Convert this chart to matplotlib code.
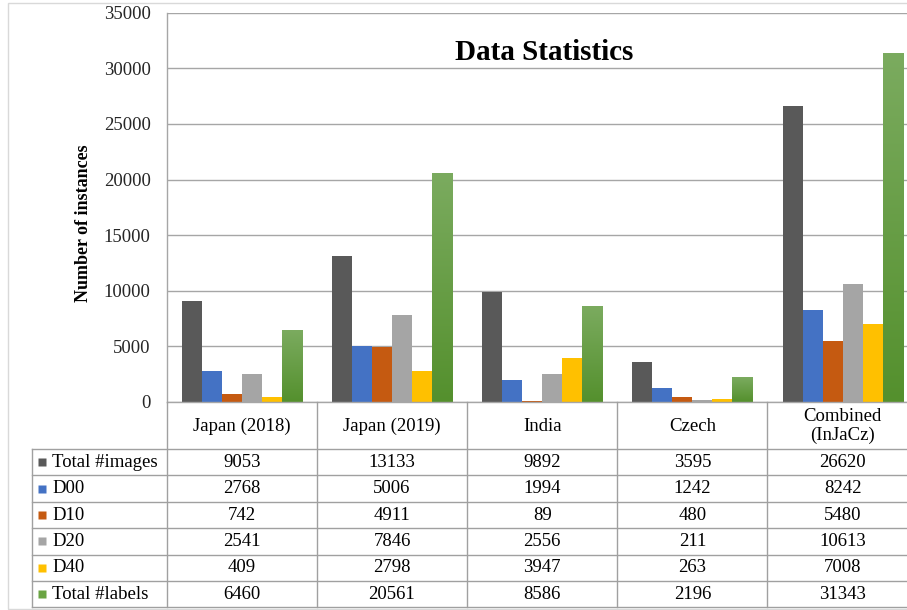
import numpy as np
import matplotlib
matplotlib.use("Agg")
import matplotlib.pyplot as plt
from matplotlib.colors import LinearSegmentedColormap
from matplotlib.patches import Rectangle

plt.rcParams['font.family'] = ['Liberation Serif', 'DejaVu Serif']

categories = ["Japan (2018)", "Japan (2019)", "India", "Czech", "Combined\n(InJaCz)"]
series_names = ["Total #images", "D00", "D10", "D20", "D40", "Total #labels"]
total_images = [9053, 13133, 9892, 3595, 26620]
d00 = [2768, 5006, 1994, 1242, 8242]
d10 = [742, 4911, 89, 480, 5480]
d20 = [2541, 7846, 2556, 211, 10613]
d40 = [409, 2798, 3947, 263, 7008]
total_labels = [6460, 20561, 8586, 2196, 31343]
yticks = [0, 5000, 10000, 15000, 20000, 25000, 30000, 35000]

series = [total_images, d00, d10, d20, d40, total_labels]
colors = ["#595959", "#4472C4", "#C55A11", "#A5A5A5", "#FFC000", "#6AA443"]
grid_col = "#A6A6A6"
line_col = "#A0A0A0"
fs = 13.5

W, H = 907, 610
fig = plt.figure(figsize=(W / 100, H / 100), dpi=100)

# pixel layout of the original excel chart
ax_left, ax_top, ax_bot = 166.7, 12.7, 402.0
col_w = 150.2
lab_left = 31.7
tab_bot = 607.4
row_h = 26.4
hdr = 47.0 / row_h

x_right = (W - ax_left) / col_w - 0.5
x_left_tab = (lab_left - ax_left) / col_w - 0.5

ax = fig.add_axes([ax_left / W, 1 - ax_bot / H, (W - ax_left) / W, (ax_bot - ax_top) / H])
x = np.arange(len(categories))
n = len(series)
bw = 0.8 / n
green_cmap = LinearSegmentedColormap.from_list("g", ["#54902D", "#7BAB5F"])
for i, (vals, c) in enumerate(zip(series, colors)):
    bars = ax.bar(x - 0.4 + bw * (i + 0.5), vals, bw, color=c, zorder=2, linewidth=0)
    if i == n - 1:
        # green series has a vertical gradient fill
        for b in bars:
            b.set_facecolor('none')
            x0, w, h = b.get_x(), b.get_width(), b.get_height()
            ax.imshow(np.linspace(0, 1, 256).reshape(-1, 1), extent=[x0, x0 + w, 0, h],
                      origin='lower', cmap=green_cmap, aspect='auto', zorder=2)

ax.set_xlim(-0.5, x_right)
ax.set_ylim(0, 35000)
ax.set_yticks(yticks)
ax.set_yticklabels([str(v) for v in yticks], fontsize=fs)
ax.set_xticks([])
ax.tick_params(axis='y', length=0, pad=11.5, colors='#262626')
ax.yaxis.grid(True, color=grid_col, lw=1)
ax.set_axisbelow(True)
for s in ['top', 'right']:
    ax.spines[s].set_visible(False)
for s in ['left', 'bottom']:
    ax.spines[s].set_color(grid_col)
    ax.spines[s].set_linewidth(1)

ax.text(0.51, 0.897, "Data Statistics", transform=ax.transAxes, ha='center', va='center',
        fontsize=21, fontweight='bold')
fig.text(83 / W, 1 - 223 / H, "Number of instances", rotation=90, ha='center', va='center',
         fontsize=13, fontweight='bold')

# data table under the plot
tax = fig.add_axes([lab_left / W, 1 - tab_bot / H, (W - lab_left) / W, (tab_bot - ax_bot) / H])
tax.set_xlim(x_left_tab, x_right)
tax.set_ylim(n, -hdr)
tax.axis('off')

for k in range(len(categories)):
    tax.plot([k - 0.5, k - 0.5], [-hdr, n], color=line_col, lw=1, clip_on=False)
tax.plot([x_left_tab, x_left_tab], [0, n], color=line_col, lw=1, clip_on=False)
for r in range(n + 1):
    tax.plot([x_left_tab, x_right], [r, r], color=line_col, lw=1, clip_on=False)

for k, cat in enumerate(categories):
    tax.text(k, -hdr / 2 + 0.02, cat, ha='center', va='center', fontsize=fs, linespacing=1.1)

for r, (name, vals, c) in enumerate(zip(series_names, series, colors)):
    tax.plot([x_left_tab + 0.07], [r + 0.5], marker='s', ms=6, color=c, mec='none')
    tax.text(x_left_tab + 0.135, r + 0.5, name, ha='left', va='center', fontsize=fs)
    for k, v in enumerate(vals):
        tax.text(k, r + 0.5, str(v), ha='center', va='center', fontsize=fs)

# light frame of the embedded chart
fig.patches.append(Rectangle((8 / W, 1 - 609 / H), 1.0, (609 - 3.3) / H, transform=fig.transFigure,
                             fill=False, edgecolor='#D9D9D9', lw=1))

fig.savefig("out.png", dpi=100)
